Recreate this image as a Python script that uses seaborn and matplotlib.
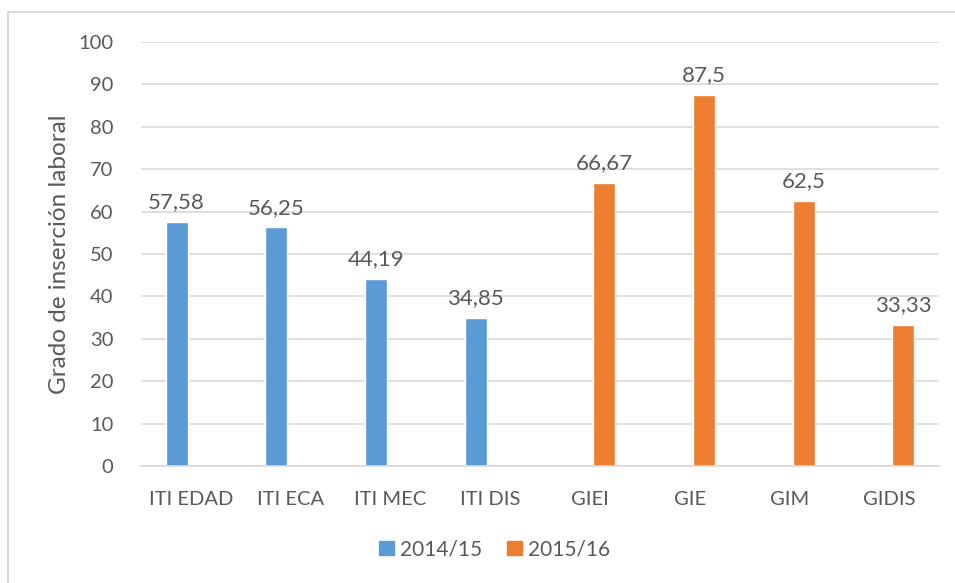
import pandas as pd
import matplotlib.pyplot as plt
import matplotlib.patches as mpatches
import seaborn as sns

categories = ['ITI EDAD', 'ITI ECA', 'ITI MEC', 'ITI DIS', 'GIEI', 'GIE', 'GIM', 'GIDIS']
cats_1415 = ['ITI EDAD', 'ITI ECA', 'ITI MEC', 'ITI DIS']
vals_1415 = [57.58, 56.25, 44.19, 34.85]
cats_1516 = ['GIEI', 'GIE', 'GIM', 'GIDIS']
vals_1516 = [66.67, 87.5, 62.5, 33.33]
series = ['2014/15', '2015/16']

df = pd.concat([
    pd.DataFrame({'titulacion': cats_1415, 'valor': vals_1415, 'curso': series[0]}),
    pd.DataFrame({'titulacion': cats_1516, 'valor': vals_1516, 'curso': series[1]}),
])

sns.set_theme(style="white")
plt.rcParams['font.family'] = ['Lato', 'DejaVu Sans']
text_col = '#595959'

fig = plt.figure(figsize=(9.55, 5.83), dpi=100)
ax = fig.add_axes([0.148, 0.2007, 0.835, 0.7273])

sns.barplot(data=df, x='titulacion', y='valor', hue='curso', order=categories,
            hue_order=series, palette=['#5B9BD5', '#ED7D31'], width=0.58, gap=0.24,
            dodge=True, saturation=1, ax=ax, legend=False)

for cont in ax.containers:
    labels = [f'{b.get_height():g}'.replace('.', ',') for b in cont]
    ax.bar_label(cont, labels=labels, padding=7, fontsize=16, color=text_col)

ax.set_ylim(0, 100)
ax.set_yticks(range(0, 101, 10))
ax.set_xlim(-0.5, len(categories) - 0.5)
ax.yaxis.grid(True, color='#d9d9d9', linewidth=1.2)
ax.set_axisbelow(True)
for s in ['top', 'right', 'left']:
    ax.spines[s].set_visible(False)
ax.spines['bottom'].set_color('#d9d9d9')
ax.spines['bottom'].set_linewidth(1.2)
ax.tick_params(axis='both', labelsize=14.5, labelcolor=text_col, length=0)
ax.tick_params(axis='y', pad=20)
ax.tick_params(axis='x', pad=18)
ax.set_xlabel('')
ax.set_ylabel('Grado de inserción laboral', fontsize=17.5, color=text_col, labelpad=6)

handles = [mpatches.Patch(color='#5B9BD5', label=series[0]),
           mpatches.Patch(color='#ED7D31', label=series[1])]
fig.legend(handles=handles, loc='center', bbox_to_anchor=(0.518, 0.058), ncol=2,
           frameon=False, fontsize=15, labelcolor=text_col, handlelength=0.7,
           handleheight=0.7, handletextpad=0.3, columnspacing=1.2)

fig.patches.append(mpatches.Rectangle((8 / 955, -0.01), 1.0, 1 - 12 / 583 + 0.01,
                                      transform=fig.transFigure, fill=False,
                                      edgecolor='#d9d9d9', linewidth=1.5))

fig.savefig('out.png', dpi=100)
